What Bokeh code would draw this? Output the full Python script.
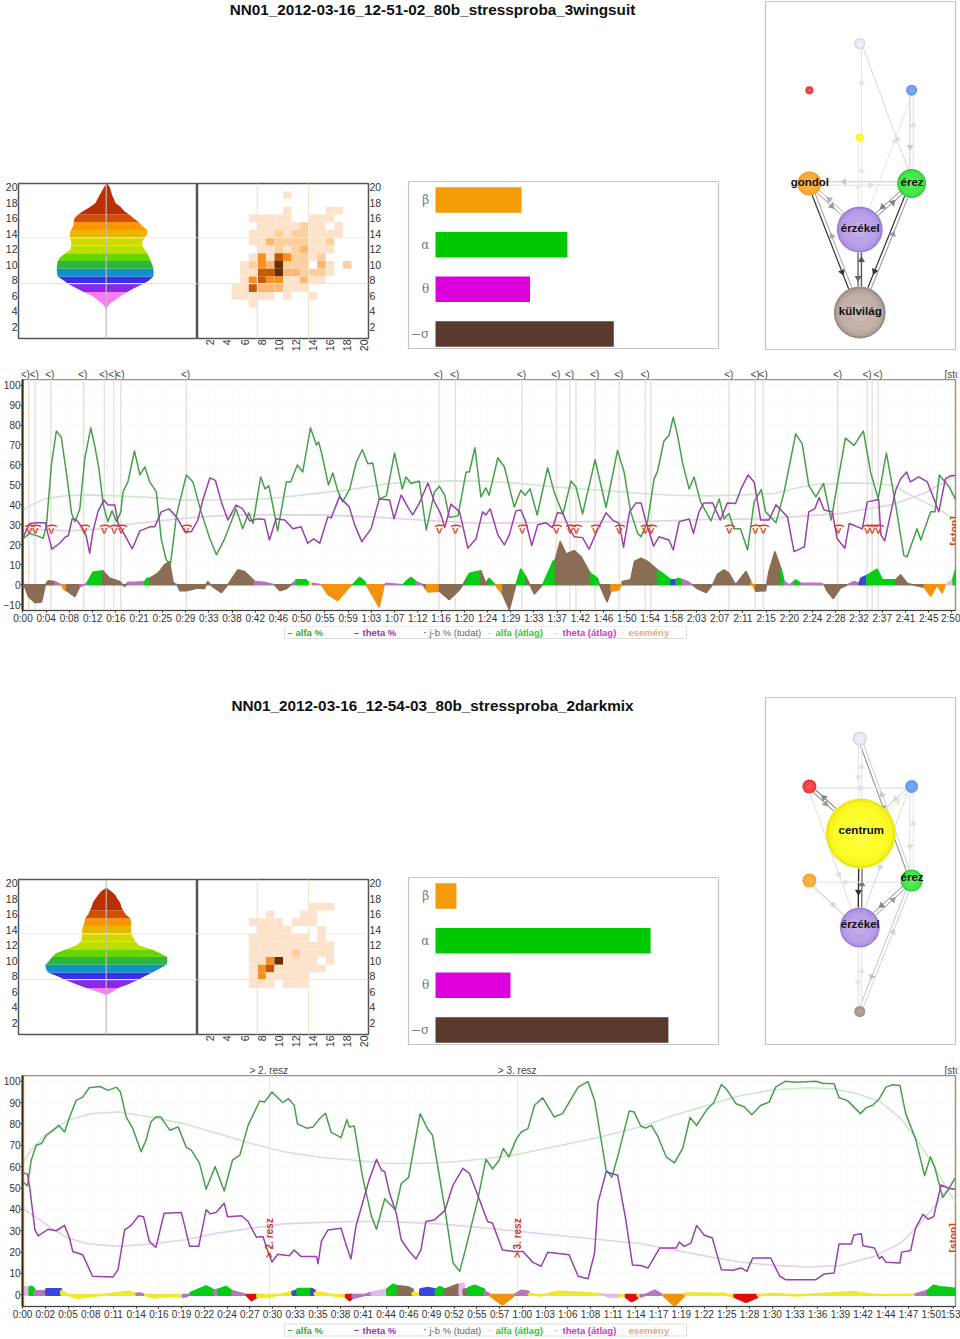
import math
import numpy as np
from bokeh.plotting import figure
from bokeh.layouts import column, row
from bokeh.embed import file_html
from bokeh.resources import INLINE
from bokeh.core.properties import value
from bokeh.models import (Range1d, FixedTicker, ColumnDataSource, Span)

SANS = "Liberation Sans"

title_1 = "NN01_2012-03-16_12-51-02_80b_stressproba_3wingsuit"
title_2 = "NN01_2012-03-16_12-54-03_80b_stressproba_2darkmix"

tick_labels_1 = ["0:00","0:04","0:08","0:12","0:16","0:21","0:25","0:29","0:33","0:38","0:42","0:46","0:50","0:55","0:59","1:03","1:07","1:12","1:16","1:20","1:24","1:29","1:33","1:37","1:42","1:46","1:50","1:54","1:58","2:03","2:07","2:11","2:15","2:20","2:24","2:28","2:32","2:37","2:41","2:45","2:50"]
tick_labels_2 = ["0:00","0:02","0:05","0:08","0:11","0:14","0:16","0:19","0:22","0:24","0:27","0:30","0:33","0:35","0:38","0:41","0:44","0:46","0:49","0:52","0:55","0:57","1:00","1:03","1:06","1:08","1:11","1:14","1:17","1:19","1:22","1:25","1:28","1:30","1:33","1:36","1:39","1:42","1:44","1:47","1:50","1:53"]
tick_step_1 = 4.25
tick_step_2 = 2.76

alfa1_t = [0,1.2,2.5,3.7,4.3,5.2,6.1,7,8,8.9,9.5,10.4,11.3,12.4,13.1,13.9,14.7,15.5,16.3,17.1,17.9,18.3,19.2,20.4,21.4,22.3,23.2,24.4,25.3,26.2,27,28.1,29.9,31.1,32.6,34.2,35.4,36.9,38.1,39,40.2,41.3,42.1,43.5,44.3,45,45.7,46.6,48.2,49,50.2,51.2,52.6,53.7,54.1,54.6,55.9,56.7,57.6,58.5,59.8,61,62.1,63.1,64,65.2,66.5,68,69.4,70.1,71,72.5,73.8,75.3,76.2,77.2,78,79.6,81.1,81.7,82.7,83.8,84.7,85.3,86.9,88.1,89.9,91.1,91.9,92.8,94.1,96,97.2,98.8,100.3,101.2,102.4,104.7,106.7,108.8,110,111.2,112.5,113.1,114.3,115.5,116.1,117.3,118.2,119,119.8,120.7,121.9,122.8,124,125.9,127.4,128.3,129.2,130.1,131.3,132.6,133.8,135.1,135.9,137.8,139.3,141.4,142.6,143.8,145.1,146.5,147.9,149.1,150.5,152.1,153.8,155.1,156.5,158,159.7,161.2,161.8,163.6,164.3,166.1,166.9,167.7,169.5,170.7]
alfa1_v = [23,25.7,24.6,23.3,30,60,77,74,55,35.7,31.6,38,63,78.6,70,58,40,31.6,37,31.6,36.5,46.5,51.5,67,55,59,51.5,46.5,23,12.5,10.5,35,55,51.5,36.5,23,15,23,31.6,38,28,36,30.7,54,48,49.5,40,27,51.5,51.5,60,56.5,78.6,70,71.5,66.5,50,56,47,41.5,48,61.5,67.6,60.6,61,43,44.5,66,48,54,50.7,52,27.4,46.5,49.3,44.8,33.7,34.5,56.5,56.5,68.6,44,48.5,44.8,63.6,59,39,47.3,44.8,48,34.9,58.6,46.5,35.4,52,49,35.4,62.6,38.7,67.3,56.5,36.5,25.7,24,31.6,53,56.5,72,74.7,83.9,74.7,61,48,54,41.5,32,43,33,35.7,28,28,17.4,41.5,47.7,36.5,31,46.5,75.6,70.6,49.8,44,50.7,32.4,51.5,73.4,69.8,77,56.5,43,66,40,14.6,14,28,22.4,36.5,36.5,55,49,42.4]

theta1_t = [0,1.2,2.5,4.1,4.6,5.3,6.7,7.8,8.3,9,9.8,11,11.6,12.2,12.8,13.7,14.8,15.6,16.8,17.4,18.6,20,21.4,23.2,24.1,25.3,26.7,28.1,29.6,30.8,32,32.9,34.2,35.2,36.3,37.5,39,40.2,41.5,43,44.2,45.1,46.3,47.9,49.4,50.9,52.1,53.2,54.3,55.8,56.4,57.9,59.7,60.7,62,63.7,65.2,67.1,67.9,69.2,70.4,71.3,72.5,74.1,75.3,76.4,77.2,78.3,79.9,81.4,82.9,84.1,84.7,85.5,86.9,88.1,89,90.2,91.1,92,93.1,94.2,95.7,96.9,97.8,98.8,100,100.9,102.4,103.6,105.2,106.7,107.9,109.1,109.9,111,112.2,113.1,114,115.4,116.4,118.2,119,120.1,121.9,122.7,123.7,124.6,126.2,127.6,128.9,130.4,131.4,132.7,133.8,135,136.5,137.8,139.9,141.1,143,143.8,144.9,145.7,146.6,148.1,149,150.4,151.2,153.6,154.5,156.6,157,157.7,159.7,160.6,161.7,162.4,163.9,165.5,166.7,167.6,168.8,169.7,170.7]
theta1_v = [23.6,30.7,31,31,25,17.8,20.8,24,24.5,33,32.4,28,24,15.8,26.6,36.5,42.4,40,40,30.7,25,18,27,29,29,36.5,38,34,26.6,26.6,32.4,42.4,53.5,52.3,41.5,32.4,39.9,38,32,33,32.7,22.4,33,32.4,28,29,20.8,23,20.8,34,33.5,44,39,30,21.6,28,43,42.4,33,45,39,35,40.7,51,41.5,35.7,28.6,40.4,36.5,18.3,23,36.5,35,38,25,20,25,37,37.4,31.6,19.6,30,31,28.6,36,35.7,28,24,23.6,17.8,28,36,32.4,30.7,18.8,36.5,41,41,31.6,19.4,24,22.4,17.4,31.6,33,25.7,36.5,41,41,32.4,41,40.7,48,55,51.5,32.4,32.4,40,34,16.6,19,36.5,38,43.7,37.4,36.5,23,18.3,30.7,28,41.5,42.7,25,22,47.3,53,56.5,51.5,54,51.5,43,36.5,53,54.5,54.8]

alfa1_avg_t = [0,1.6,4,7.6,12,17.4,23.5,29.6,38.7,44.8,54.6,60.7,66.8,72.8,79,85,91.1,97.2,103.3,109.4,113.1,119.2,125.3,131.4,137.4,140.5,144.8,150.9,155.7,159.4,161.8,164.9,167.9,170.7]
alfa1_avg_v = [37.4,40,43,44.5,45,44.5,43.7,42.4,42.7,43,46,48,50.7,51.5,52,51.8,50.7,49,47.8,46.5,45.7,44.8,44.5,45,45.7,47.8,50.2,51,50.7,49.8,45.7,41.5,37.4,32.4]
theta1_avg_t = [0,8.3,14.3,20.4,26.5,32.6,38.7,50.9,54.6,63.7,72.8,82,91.1,103.3,113.1,125.3,134.4,143.5,149.6,158.8,164.9,170.7]
theta1_avg_v = [28,27,28,30.7,32.4,34,35,35,35,34,32.4,31,31,31.6,31.6,32.7,33,34.5,35.7,40,45.7,54.8]

# j-b % band: (kind, times, values)
jb1_segments = [
 ("B",[0,0.3,1,2.2,3.4,4.1,4.6,5.8],[1.6,-1,-6,-9,-8.7,0,2,1.6]),
 ("P",[5.8,7],[1.6,0]),
 ("O",[7,7.5,8],[0,-2.5,-3]),
 ("B",[8,9.5,10.4],[-3,-6,-1]),
 ("P",[10.4,11.3,11.9],[-1,0,1.8]),
 ("G",[11.9,12.8,14.6],[1.8,6.3,7]),
 ("B",[14.6,15.9,17.7,18.6,19.2],[7,3.3,1.7,-1,1.3]),
 ("P",[19.2,20.4,22.3],[1.3,1.3,1.7]),
 ("G",[22.3,22.7,23.2],[1.7,3.3,3.3]),
 ("B",[23.2,24.7,25.9,26.8,27.5,28.2,28.7,29.9,32,33.2,33.8,34.7,36.3,37.5,39.3,40.5,42.4],[3.3,5.8,10,11.7,1,0,-3,-3,-1.7,-2,1.7,-1,-4,0,7.5,6.7,1.7]),
 ("P",[42.4,44.2,46],[1.7,1.3,0]),
 ("B",[46,47,48.2,49.4],[0,-3,-2,0.8]),
 ("P",[49.4,50],[0.8,2.5]),
 ("G",[50,51.8,52.4],[2.5,2.5,0.8]),
 ("Y",[52.4,53],[0.8,0.8]),
 ("P",[53,54.6],[0.8,0]),
 ("O",[54.6,55.8,57.6,59.7,60.3],[0,-5,-8,-1.3,0]),
 ("G",[60.3,61.6,62.5,62.8],[0,3.8,1.7,0]),
 ("O",[62.8,65.2,66.1],[0,-11.3,0]),
 ("P",[66.1,66.5,69.5],[0,0.8,0]),
 ("G",[69.5,70.1,71,71.9],[0,1.7,3.8,1.7]),
 ("P",[71.9,73.2],[1.7,0]),
 ("B",[73.2,73.8],[0,-2.5]),
 ("O",[73.8,74.1,76.2],[-2.5,-3.7,-3.3]),
 ("B",[76.2,78,79.9,80.5,81.2],[-3.3,-7.5,-2.5,0,3.5]),
 ("G",[81.2,81.7,83.8],[3.5,5.8,7]),
 ("B",[83.8,84.7,85.3],[7,0.8,3.3]),
 ("G",[85.3,86.4],[3.3,0]),
 ("O",[86.4,87.8],[0,-5]),
 ("B",[87.8,89,90.2],[-5,-12.5,0]),
 ("G",[90.2,91.1,92],[0,8,4.2]),
 ("B",[92,93.6,95.1],[4.2,-4.7,0]),
 ("G",[95.1,97,97.4],[0,11.7,12.5]),
 ("B",[97.4,98.3,99.4,100.9,102.1,103.8],[12.5,21.7,15.5,17.2,14.2,5.8]),
 ("G",[103.8,105.1,105.5],[5.8,3.3,0]),
 ("B",[105.5,106.9,107.6],[0,-8.7,-3.3]),
 ("O",[107.6,109.1,109.7],[-3.3,-2.5,1.7]),
 ("B",[109.7,111.2,111.9,113.1,114.3,116.1],[1.7,2.5,11.7,13.3,11.7,7.5]),
 ("G",[116.1,116.4,118.2,118.6],[7.5,7,3.3,2.5]),
 ("L",[118.6,119.5],[2.5,2.5]),
 ("G",[119.5,119.8,120.7],[2.5,3.3,2.5]),
 ("P",[120.7,121.6,122.5],[2.5,1.7,0]),
 ("B",[122.5,123.4,125,126.2,127.1,128.3,129.2,130.4,132.3,133.2],[0,-2,-4,0,5.3,7.5,5.8,0,6.7,1.7]),
 ("O",[133.2,133.5,134.1],[1.7,0,-3.3]),
 ("B",[134.1,135.9,136.5,137.6,138.7],[-3.3,-3,6.7,16.7,8.3]),
 ("G",[138.7,139.3],[8.3,1.7]),
 ("P",[139.3,140.2,141.1],[1.7,0,1.7]),
 ("G",[141.1,141.4,142.3],[1.7,2.5,0.8]),
 ("P",[142.3,146,146.6],[0.8,0.8,0]),
 ("B",[146.6,147.2,148.3,149.6,150.9],[0,-3.3,-7,-1.7,0]),
 ("P",[150.9,152.1,153],[0,1.7,0.8]),
 ("L",[153,153.3,154.4],[0.8,3.3,4.7]),
 ("G",[154.4,156.3,157.3,159.7],[4.7,7.8,2.5,2.5]),
 ("B",[159.7,160.6,161.8,162.7,164.9],[2.5,5,0.8,0,-1.3]),
 ("O",[164.9,166.1,167.3,168.2,168.8],[-1.3,-5.8,-0.3,-4.2,0]),
 ("V",[168.8,169.7,170.2],[0,1.7,3.3]),
 ("G",[170.2,170.7],[3.3,8]),
]

events1_t = [1.06,2.23,5.08,11.1,14.9,16.6,17.9,29.9,76.1,79.1,91.3,97.6,100.1,101.2,104.7,109.1,113.9,114.9,129.2,134,135.5,149.1,154.5,155.4,156.5]
labeled1_t = [0.6,2.23,5.08,11.1,14.9,16.6,17.9,29.9,76.1,79.1,91.3,97.6,100.1,104.7,109.1,113.9,129.2,134,135.5,149.1,154.5,156.5]
event1_text = "<)"

alfa2_t = [0,.6,1.05,1.66,2.3,2.9,3.7,4.4,5.1,5.7,6.5,7.3,8.1,9.4,10.4,11.4,11.9,12.6,13.4,14.4,15,15.6,16.2,16.8,17.9,18.9,19.9,20.5,21.5,22.3,23.4,24.5,25.5,26.4,27.4,28.8,29.4,30.3,31.6,32.3,33,33.4,34.5,35.3,36.1,36.8,37.5,38.7,39.4,39.7,40.3,41.3,42.4,43,44,45.3,46,46.9,48.3,49.2,49.8,51.3,52.3,53.1,53.7,55.3,56.3,57.1,57.9,58.4,59.1,60,60.6,61.4,62.2,63.2,64.6,65.6,67.5,68.7,69.5,70.9,71.6,72.3,73.7,74.3,75.1,75.7,76.4,77.2,78.2,79.2,80.2,81.1,81.9,83.2,84,84.9,85.5,86.7,87.7,88.6,89.7,90.7,91.5,92.7,93.8,96.4,97.2,98.6,99.2,100.2,101.8,102.5,103.3,104.1,104.9,105.7,106.6,107.3,108.5,109.6,110.3,110.8,111.8,112.6,113.4]
alfa2_v = [53,51,63,70,70.8,74.7,77,79.3,76.2,83,91,92.5,96.9,97.5,95.7,97.2,94.9,83.2,77.8,67,72.4,81,83.2,83.2,77,78.6,69,67.7,61.5,49.4,60,48.6,63,65.4,79.3,90.7,90.2,94.9,90,91.8,88.7,80,78,78.6,82.5,85,76,73.6,82,78.6,79,55.3,36.6,30.7,45,39.8,52,55,84.8,77.8,74.7,40.5,15,11,19.6,44.4,63.5,58.9,63,68.5,64.6,73,76.2,77.8,88.7,92.2,83.2,84.8,97.2,99.8,91,58.4,55,64.6,86,85.6,79,78,79.3,74,64.6,61.8,68.5,83,79.3,87,90,98.4,96.4,89.4,87.9,84.3,88.7,90.2,97.2,100,99.5,100,99,98.8,92.2,91,84.8,87.6,88.7,91.8,97.2,98.3,98,84.8,73,55.7,64.6,60,45.7,49.8,55.3]

theta2_t = [0,.6,.85,1.5,1.9,3.1,4.1,5.1,5.7,6.1,7.3,8.5,11,11.6,12.4,13.2,14.1,14.7,15.4,16.2,17.2,19.3,20.3,21.4,22.3,22.8,23.5,24.5,24.9,26.6,27.4,28.4,29.2,29.8,30.3,31,32.4,33,33.8,35.7,35.9,36.3,37.1,38.7,39.3,39.9,40.5,41.3,42.1,43,43.6,44,44.6,45.4,46,47,47.8,48.4,49,50,51.3,52.3,53.5,54.3,55.3,56.5,57.1,58.3,59.8,60.8,62,63,63.8,66.4,67.5,68.7,69.5,69.9,70.9,72.3,73.3,74.1,75.1,76,77.4,79.4,79.8,80.4,81.2,81.9,82.8,83.8,84.9,86.3,87.3,88,88.7,90.9,92,92.7,96.4,97.4,98.6,99.2,100.7,101,101.9,102.1,103.5,104.1,104.4,104.9,106.6,106.8,107.9,108.5,109.4,110,110.7,111.6,112.6,113.4]
theta2_v = [57.3,56.5,50.6,30.4,27.6,30.7,30,32.5,26.6,20.3,18.8,8.7,8.4,11.8,30.4,32.5,37,36.6,25,22.2,38.2,38.5,22.7,22.7,39.8,37.9,38.5,42.9,36.6,37,34.3,27,27.3,20.3,15.4,19,18.3,21,18,18,14.6,25,30.4,31.2,23.4,16.8,32,42.9,53.7,63.4,58.4,57.6,47.5,38.2,25.8,20.3,16.8,21,34.3,35,39.4,51.4,59.2,56.8,46.7,34.3,33.5,21,20.3,20.3,15.2,13.4,19.9,18.8,8.7,7.5,19.6,42.9,57.6,56,35,14,13.7,12.6,21.9,21.9,24.7,22.7,24.2,32.5,28,26.6,11.8,11.5,12.6,11,17.2,17.2,8.7,7.1,7.1,9.8,10.2,23.8,23.8,28,28.6,23,21.9,16.9,18,15.2,14.9,20,20.8,31.2,37.7,35.4,36.6,51.4,49.8,49.4]

alfa2_avg_t = [0,1,2.7,5.5,8.3,11.6,15.6,19.7,23.7,27.8,31.8,36.3,40.3,44.4,48.4,52.5,56.5,60.2,64.6,69.9,75.1,79.2,83.2,87.3,91.3,95.4,98.6,101.5,104.3,106.7,108.7,110.8,112.4,113.4]
alfa2_avg_v = [61.5,67.7,74.7,81.7,84.8,85.6,83.2,80,75.5,70.8,67,64.3,63,61.5,61.5,62.3,63.8,65.8,69.3,73.6,78.6,84,88.7,93.3,96,96.9,96.4,94,90.2,82.5,72.4,60,49,43.6]
theta2_avg_t = [0,1.5,3.5,5.5,7.9,11.6,15.6,19.7,23.7,27.8,31.8,36.3,40.3,44.4,50.5,56.5,64.6,75.1,79.2,83.2,87.3,91.3,95.4,99.4,103.5,106.7,108.7,110.8,113.4]
theta2_avg_v = [40.5,36.6,31.2,26.6,23.9,22.7,23.8,25.8,28.9,31.2,33.2,33.9,34.3,34.3,33.2,31.2,28,23.9,21,18,15.4,13.8,13,13.7,18,24.2,32,41.3,55.3]

jb2_segments = [
 ("V",[0,.85],[3.5,3.5]),
 ("G",[.85,1.1,1.45],[3.5,3.8,2.5]),
 ("P",[1.45,2.87],[1.7,1.7]),
 ("L",[2.87,4.7],[2.7,2.7]),
 ("Y",[4.7,5.5,6.7,9.55,12.8,13.8],[2,0,-1.5,0,1.5,.5]),
 ("P",[13.8,14.3,14.8],[.5,.7,0]),
 ("Y",[14.8,16,18.5,19.5],[0,-1.3,-.3,-1]),
 ("P",[19.5,20,20.5],[-1,-.5,1]),
 ("G",[20.5,22.3,23.3],[1,4,2]),
 ("P",[23.3,23.8],[2,2.5]),
 ("G",[23.8,24.7,25.5],[2.5,3.7,1.7]),
 ("P",[25.5,27.2],[1.7,0]),
 ("R",[27.2,27.8,28.5],[0,-2.5,-1]),
 ("Y",[28.5,29.8,31,32.8],[-1,-1,0,1.4]),
 ("L",[32.8,33.4],[1.4,2.2]),
 ("G",[33.4,35.1],[2.8,2.8]),
 ("L",[35.1,35.5],[2.8,2]),
 ("Y",[35.5,36.3,37.9,39.3],[1,1,-.3,-1]),
 ("R",[39.3,39.7,40.1],[-1,-2.5,-1.5]),
 ("P",[40.1,41.2,42.4],[-1.5,-.5,1]),
 ("V",[42.4,44.3],[1,2.5]),
 ("G",[44.3,45,45.6],[2.5,4.8,4]),
 ("B",[45.6,46.8,47.4],[4,3.6,2.5]),
 ("Y",[47.4,48.3],[1,.5]),
 ("L",[48.3,49.2,50.2],[2.5,3.3,2.5]),
 ("G",[50.2,50.7,51.3],[2.5,3.6,2.5]),
 ("B",[51.3,52.9,53.1],[2.5,4.8,4.8]),
 ("V",[53.1,53.6],[4.8,5.3]),
 ("B",[53.6,54.1],[2.5,2.5]),
 ("G",[54.1,54.9,56.1],[3,4.3,2.5]),
 ("P",[56.1,56.7],[1.5,.5]),
 ("O",[56.7,58.3,59.8],[0,-4.5,0]),
 ("P",[59.8,60.6,61.5],[0,2,1.5]),
 ("Y",[61.5,63,65,67.9,70.5],[0.5,-.3,1.5,1,.2]),
 ("V",[70.5,71.5,72.5],[.2,-1,-.8]),
 ("Y",[72.5,73.3],[-.8,-.5]),
 ("R",[73.3,74,74.7],[-1,-3,-1.5]),
 ("Y",[74.7,75.1],[-.5,-.5]),
 ("P",[75.1,76.8,77.6],[-1,2,.3]),
 ("O",[77.8,79.2,80.5],[0,-5,0]),
 ("Y",[80.5,82,85.3,86.5],[.6,.6,.5,-1]),
 ("R",[86.5,87.9,89.3],[-1,-3.3,-1]),
 ("Y",[89.3,91.3,93.8,97.4,101,103.5,107.5,108.5],[-.3,.6,-.3,.5,1.4,0,0,.3]),
 ("P",[108.5,110],[.3,2]),
 ("G",[110,110.7,111.4,112.2,113.4],[2,4.3,3.6,3.3,2.8]),
]
events2_t = [30.0,60.15]
events2_text = ["> 2. resz","> 3. resz"]

legend_items = ["alfa %","theta %","j-b % (tudat)","alfa (átlag)","theta (átlag)","esemény"]

ticks_20 = [2,4,6,8,10,12,14,16,18,20]

violin_levels_1 = [20.5,20,19,18,17.5,17,16.5,16,15.5,15,14.5,14,13.5,13,12.5,12,11.5,11,10.5,10,9.5,9,8.5,8,7.5,7,6.5,6,5.5,5,4.5,4.2]
violin_left_1 = [0,2.3,6.7,10.7,15.7,22.3,28,31.7,32.3,33,35,36.3,36.3,35,34.7,35.7,40.7,45.7,48.3,49,49.3,49,48.3,42.3,37.3,29.7,22.3,14,9,4,.7,0]
violin_right_1 = [1,3.7,6,9.3,14.3,17.7,22.7,27.7,32.7,36,41,41,38.3,36,36,38.3,41,42.7,44.3,46,47,47.3,47,42.7,36,27.7,21,14.3,9.3,3.7,1,.3]
violin_levels_2 = [19.4,19,18.5,18,17.5,17,16.5,16,15.5,15,14.5,14,13.5,13,12.5,12,11.5,11,10.5,10,9.5,9,8.5,8,7.5,7,6.5,6,5.6]
violin_left_2 = [.3,5,8,11,13.3,14.5,16.3,18,21,21.7,23,24,24,24.3,25,30,40,50,54,57,60.7,60,58,48,40,30,20,8,0]
violin_right_2 = [.5,5,9,11.3,14,15,17,19.5,24,25,24.7,24.7,25,27,29,33,45,54,60.7,61,60,53,46,38,31,22,12,6,0]

# heat map rows, row 20 first; a digit is the shade of a cell of columns 1..20
heat_1 = ["00000000000000000000","00000000001000000000","00000000000000000000","00000000001000011000","00000011111001110000",
"00000001111121101000","00000011121221111000","00000011322221120000","00000001121231110000","00000014154221200000",
"00000124362220310200","00000115563322210000","00000145441131100000","00001153331110000000","00001111101001000000",
"00000010000000000000","00000000000000000000","00000000000000000000","00000000000000000000","00000000000000000000"]
heat_2 = ["00000000000000000000","00000000000000000000","00000000000000000000","00000000000001110000","00000000100011000000",
"00000011110111000000","00000001111000100000","00000011111110100000","00000011111111110000","00000011111211110000",
"00000011461111010000","00000014511111100000","00000014111110000000","00000011101110000000","00000000000000000000",
"00000000000000000000","00000000000000000000","00000000000000000000","00000000000000000000","00000000000000000000"]

bar_names = ["β","α","θ","−σ"]
bars_1 = [30.4,46.6,33.4,63]
bars_2 = [7.4,76,26.5,82.3]

net1_names = {"gondol":"gondol","erez":"érez","erzekel":"érzékel","kulvilag":"külvilág"}
net2_names = {"centrum":"centrum","erez":"érez","erzekel":"érzékel"}

JB = {"B":"#8a6d55","G":"#05cc14","P":"#b477bb","O":"#f2920e","L":"#3a46dc","Y":"#efe92c","R":"#e20c0c","V":"#e4b8ea"}
BAND = ["#fb7cf5","#8a28e8","#3a30e8","#1090cc","#2ab640","#66d600","#bede00","#d2d800","#e9b500","#fc9500","#d05000","#bb2f00"]
HEAT = ["#ffffff","#fde3cb","#fccf9f","#fab877","#f88f1f","#c45a05","#6b2e02"]


def chart(w_t, labels, step, xr, yr, h_frame, left, bottom, band_w,
          alfa, theta, alfa_avg, theta_avg, segs, y_ticks):
    p = figure(width=960, height=h_frame+bottom, x_range=Range1d(*xr), y_range=Range1d(*yr), output_backend="svg",
               toolbar_location=None, min_border_left=left, min_border_right=960-left-w_t,
               min_border_top=0, min_border_bottom=bottom)
    p.frame_align = False
    p.outline_line_color = "#a58f75"
    p.outline_line_width = 1.5
    ticks = [i*step for i in range(len(labels))]
    p.xaxis.ticker = FixedTicker(ticks=ticks)
    p.xaxis.major_label_overrides = {t: l for t, l in zip(ticks, labels)}
    p.yaxis.ticker = FixedTicker(ticks=y_ticks)
    for ax in [p.xaxis[0], p.yaxis[0]]:
        ax.major_label_text_font = SANS
        ax.major_label_text_font_size = "10px"
        ax.major_label_text_color = "#333333"
        ax.major_label_standoff = 0
        ax.major_tick_out = 2
        ax.major_tick_in = 0
        ax.minor_tick_line_color = None
        ax.major_tick_line_color = "#333333"
    p.xaxis.axis_line_color = "#444444"
    p.yaxis.axis_line_color = "#3d2b1a"
    p.yaxis.axis_line_width = 2
    p.xgrid.grid_line_color = "#efefef"
    p.ygrid.grid_line_color = "#efefef"
    p.xgrid.grid_line_dash = "1 3"
    p.ygrid.grid_line_dash = "1 3"
    src = dict(xs=[], ys=[], c=[])
    for kind, ts, vs in segs:
        src["xs"].append(list(ts) + [ts[-1], ts[0]])
        src["ys"].append(list(vs) + [0, 0])
        src["c"].append(JB[kind])
    p.patches("xs", "ys", fill_color="c", line_color="c", line_width=band_w, source=ColumnDataSource(src))
    p.line(alfa_avg[0], alfa_avg[1], line_color="#cfe6cf", line_width=1.6)
    p.line(theta_avg[0], theta_avg[1], line_color="#e4d0e8", line_width=1.6)
    p.line(alfa[0], alfa[1], line_color="#46a04a", line_width=1.5, line_join="round")
    p.line(theta[0], theta[1], line_color="#9b3fae", line_width=1.5, line_join="round")
    p.segment(x0=[xr[0]+0.1], x1=[xr[0]+0.1], y0=[yr[0]], y1=[yr[1]], line_color="#f0a040", line_width=2, line_alpha=.7)
    return p


def plain(width, height, xr, yr, left=0, right=0):
    p = figure(width=width, height=height, x_range=Range1d(*xr), y_range=Range1d(*yr),
               x_axis_location=None, y_axis_location=None, output_backend="svg", toolbar_location=None,
               min_border_left=left, min_border_right=right, min_border_top=0, min_border_bottom=0, outline_line_color=None)
    p.grid.visible = False
    p.frame_align = False
    return p


def top_strip(h, cy, xr, scale, ts, texts):
    p = plain(960, h, xr, (h, 0), left=21, right=3)
    p.text(x=ts, y=[cy]*len(ts), text=texts, text_font=value(SANS), text_font_size="10px", text_color="#444444",
           text_align="center", text_baseline="middle")
    p.text(x=[xr[1]-13/scale], y=[cy], text=["[stop]"], text_font=value(SANS), text_font_size="10px",
           text_color="#444444", text_baseline="middle")
    return p


def legend_strip(h, cy):
    p = plain(960, h, (0,960), (h,0))
    p.quad(left=[284], right=[686], top=[cy-6], bottom=[cy+6], fill_color="white", line_color="#dddddd", line_width=1)
    items = [(295,"#3aa63a","bold"),(362,"#9b33ad","bold"),(429,"#666666","normal"),(495,"#39c439","bold"),(562,"#c93acb","bold"),(628,"#f2a67a","bold")]
    dash = [(287,"#3aa63a","–"),(353.5,"#9b33ad","–"),(423,"#555555","·"),(487,"#cfe6cf","–"),(553,"#e4d0e8","–"),(621,"#f5d0b8","·")]
    for (x, col, st), t in zip(items, legend_items):
        p.text([x],[cy],text=[t],text_font=value(SANS),text_font_size="9.5px",text_color=col,text_font_style=st,text_baseline="middle")
    for x, col, t in dash:
        p.text([x],[cy],text=[t],text_font=value(SANS),text_font_size="9px",text_color=col,text_font_style="bold",text_baseline="middle")
    return p


xr1 = (-0.09,170.65)
xr2 = (-0.01,113.35)
yr1 = (-12.9,102.8)
yr2 = (-5.45,102.65)
strip_xr1 = (-0.09, (957-21.5)/5.47)
strip_xr2 = (-0.01, (957-21)/8.24)

c1 = chart(934, tick_labels_1, tick_step_1, xr1, yr1, 232, 21, 15, 1.4,
           (alfa1_t,alfa1_v),(theta1_t,theta1_v),(alfa1_avg_t,alfa1_avg_v),(theta1_avg_t,theta1_avg_v),jb1_segments,
           [-10,0,10,20,30,40,50,60,70,80,90,100])
c1.segment(x0=events1_t, x1=events1_t, y0=[yr1[0]]*len(events1_t), y1=[yr1[1]]*len(events1_t), line_color="#e8e2dc", line_width=1.5)
c1.renderers.insert(0, c1.renderers.pop())
c1.text(x=events1_t, y=[28]*len(events1_t), text=[event1_text]*len(events1_t), angle=math.pi/2, angle_units="rad",
        text_color="#d8401a", text_font=value(SANS), text_font_style="bold", text_font_size="11px",
        text_align="center", text_baseline="middle")
c1.text(x=[170.3], y=[27], text=["[stop]"], angle=math.pi/2, text_color="#d04a10", text_font=value(SANS),
        text_font_style="bold", text_font_size="10.5px", text_align="center", text_baseline="middle")
s1 = top_strip(14, 9, strip_xr1, 5.47, labeled1_t, [event1_text]*len(labeled1_t))

c2 = chart(934, tick_labels_2, tick_step_2, xr2, yr2, 232, 21, 15, 2.4,
           (alfa2_t,alfa2_v),(theta2_t,theta2_v),(alfa2_avg_t,alfa2_avg_v),(theta2_avg_t,theta2_avg_v),jb2_segments,
           [0,10,20,30,40,50,60,70,80,90,100])
c2.segment(x0=events2_t, x1=events2_t, y0=[yr2[0]]*2, y1=[yr2[1]]*2, line_color="#ebe6e0", line_width=1)
c2.renderers.insert(0, c2.renderers.pop())
c2.text(x=events2_t, y=[26.5]*2, text=events2_text, angle=math.pi/2, text_color="#c8381a", text_font=value(SANS),
        text_font_style="bold", text_font_size="10px", text_align="center", text_baseline="middle")
c2.text(x=[113.1], y=[26.7], text=["[stop]"], angle=math.pi/2, text_color="#d04a10", text_font=value(SANS),
        text_font_style="bold", text_font_size="10.5px", text_align="center", text_baseline="middle")
s2 = top_strip(15, 10, strip_xr2, 8.24, events2_t, events2_text)


def axis_style(ax):
    ax.major_label_text_font = SANS
    ax.major_label_text_font_size = "10.5px"
    ax.major_label_text_color = "#333333"
    ax.major_label_standoff = 1
    ax.major_tick_out = 0
    ax.major_tick_in = 0
    ax.minor_tick_line_color = None
    ax.axis_line_color = None


def violin_panel(levels, left, right, top, bottom):
    p = figure(width=197, height=top+bottom+155, x_range=Range1d(-87.4,91), y_range=Range1d(.5,20.5),
               x_axis_location=None, output_backend="svg", toolbar_location=None,
               min_border_left=18, min_border_right=0, min_border_top=top, min_border_bottom=bottom)
    p.frame_align = False
    p.grid.visible = False
    p.outline_line_color = "#555555"
    p.outline_line_width = 1.5
    p.yaxis.ticker = FixedTicker(ticks=ticks_20)
    axis_style(p.yaxis[0])
    lv = np.array(levels)
    lo = np.array(left)
    hi = np.array(right)
    edges = [0,6.5,7.5,8.5,9.5,10.5,11.5,12.5,13.5,14.5,15.5,16.5,21]
    for i, col in enumerate(BAND):
        m = (lv >= edges[i]) & (lv <= edges[i+1])
        p.harea(x1=-lo[m], x2=hi[m], y=lv[m], fill_color=col)
    p.add_layout(Span(location=0, dimension="height", line_color="#bbbbbb", line_width=1.2))
    p.add_layout(Span(location=7.6, dimension="width", line_color="#e3e3e3", line_width=1.2))
    p.add_layout(Span(location=13.5, dimension="width", line_color="#eef0cc", line_width=1.2))
    return p


def heat_panel(rows, top, bottom):
    p = figure(width=208, height=top+bottom+155, x_range=Range1d(.5,20.5), y_range=Range1d(.5,20.5),
               y_axis_location="right", output_backend="svg", toolbar_location=None,
               min_border_left=0, min_border_right=37, min_border_top=top, min_border_bottom=bottom)
    p.frame_align = False
    p.grid.visible = False
    p.outline_line_color = "#555555"
    p.outline_line_width = 1.5
    for ax in (p.xaxis[0], p.yaxis[0]):
        ax.ticker = FixedTicker(ticks=ticks_20)
        axis_style(ax)
    p.xaxis.major_label_orientation = math.pi/2
    xs, ys, cs = [], [], []
    for i, r in enumerate(rows):
        for j, ch in enumerate(r):
            if ch != "0":
                xs.append(j+1)
                ys.append(20-i)
                cs.append(HEAT[int(ch)])
    p.rect(xs, ys, width=1, height=1, fill_color=cs, line_color=None)
    p.add_layout(Span(location=7.6, dimension="width", line_color="#e3e3e3", line_width=1.2))
    p.add_layout(Span(location=13.5, dimension="width", line_color="#eef0cc", line_width=1.2))
    p.add_layout(Span(location=7.5, dimension="height", line_color="#e3e3e3", line_width=1.2))
    p.add_layout(Span(location=13.5, dimension="height", line_color="#f3e8cc", line_width=1.2))
    return p


def bars_panel(vals, top, bottom):
    p = figure(width=357, height=top+bottom+167, x_range=Range1d(-9.54,100), y_range=Range1d(.675,4.414),
               x_axis_location=None, y_axis_location=None, output_backend="svg", toolbar_location=None,
               min_border_left=3, min_border_right=44, min_border_top=top, min_border_bottom=bottom)
    p.frame_align = False
    p.grid.visible = False
    p.outline_line_color = "#c4c4c4"
    p.outline_line_width = 1.2
    pos = [4,3,2,1]
    p.hbar(y=pos, left=0, right=vals, height=.57, fill_color=["#f39c08","#00c800","#dd00dd","#5a3a2e"], line_color=None)
    p.text(x=[-2.2]*4, y=pos, text=bar_names, text_font=value("DejaVu Serif"), text_font_size="12px", text_color="#777777",
           text_align="right", text_baseline="middle")
    return p


def net_panel(nodes, edges, names, yr, top, bottom, label_dy):
    p = figure(width=198, height=top+bottom+int(yr[0]-yr[1]), x_range=Range1d(765.5,956), y_range=Range1d(*yr),
               x_axis_location=None, y_axis_location=None, output_backend="svg", toolbar_location=None,
               min_border_left=3, min_border_right=5, min_border_top=top, min_border_bottom=bottom)
    p.frame_align = False
    p.grid.visible = False
    p.outline_line_color = "#c4c4c4"
    p.outline_line_width = 1.2
    for a, b, col, w, fr in edges:
        ax, ay, ar = nodes[a][:3]
        bx, by, br = nodes[b][:3]
        d = math.hypot(bx-ax, by-ay)
        ux, uy = (bx-ax)/d, (by-ay)/d
        nx, ny = -uy*1.7, ux*1.7
        sx, sy = ax+ux*ar+nx, ay+uy*ar+ny
        ex, ey = bx-ux*br+nx, by-uy*br+ny
        p.line([sx, ex], [sy, ey], line_color=col, line_width=w)
        mx, my = sx+(ex-sx)*fr, sy+(ey-sy)*fr
        p.scatter([mx], [my], marker="triangle", size=7, angle=math.atan2(-uy, ux)-math.pi/2,
                  fill_color=col, line_color=None)
    for k, (x, y, r, col, rim) in nodes.items():
        p.circle([x], [y], radius=r, fill_color=rim, line_color=None)
        for f, a in ((.92,.55),(.8,.5),(.65,.45)):
            p.circle([x], [y+r*(1-f)*.1], radius=r*f, fill_color=col, fill_alpha=a, line_color=None)
        p.circle([x], [y], radius=r*.35, fill_color="white", fill_alpha=.12, line_color=None)
    for k, s in names.items():
        x, y = nodes[k][:2]
        p.text([x+.5], [y+label_dy], text=[s], text_font=value(SANS), text_font_style="bold", text_font_size="11.5px",
               text_color="#111111", text_align="center", text_baseline="middle")
    return p


net1_nodes = {
 "top":(860,43,5.5,"#f6f0f8","#cfc6d4"),
 "red":(809.5,89.7,4,"#f04848","#e03030"),
 "blue":(912,89.7,5.5,"#70a4f4","#5c8fe8"),
 "yellow":(860,137,4,"#ffff30","#f0e800"),
 "gondol":(809.5,183,12,"#ffb040","#f09a28"),
 "erez":(912,183,14.5,"#50ec50","#28cc38"),
 "erzekel":(860,229,23,"#c0a8ec","#9a80d4"),
 "kulvilag":(860,312,26,"#c8b8b0","#9c8c84"),
}
net1_edges = [
 ("gondol","kulvilag","#333333",1.2,.82),("kulvilag","gondol","#a8a8b0",1.1,.55),
 ("erzekel","kulvilag","#666666",1.4,.75),("kulvilag","erzekel","#555555",1.4,.78),
 ("erez","kulvilag","#333333",1.2,.82),("kulvilag","erez","#9a9aa8",1.1,.6),
 ("gondol","erzekel","#a89888",1,.6),("erzekel","gondol","#aab0c0",1,.6),
 ("erez","erzekel","#888078",1,.72),("erzekel","erez","#808088",1,.62),
 ("gondol","erez","#dddddd",1,.65),("erez","gondol","#c8c8c8",1,.7),
 ("erzekel","yellow","#ece6ec",1,.55),("yellow","erzekel","#eee4ec",1,.7),
 ("yellow","top","#e6e4ea",1,.6),("erez","top","#ddd4dc",1,.25),
 ("erez","blue","#e2dee8",1,.6),("blue","erez","#cccccc",1,.7),("erzekel","blue","#e8e0ea",1,.6),
]
net2_nodes = {
 "top":(860,738,7,"#f4eef8","#cfc6d4"),
 "red":(809.5,786,7,"#f84848","#e02c2c"),
 "blue":(912,786,6.5,"#70a4f4","#5c8fe8"),
 "centrum":(861,833,35,"#ffff30","#eeea10"),
 "orange":(809.5,880,7,"#ffb040","#f09a28"),
 "erez":(912,880,11,"#50ec50","#28cc38"),
 "erzekel":(860,927,20,"#c0a8ec","#9a80d4"),
 "brown":(860,1011,5.5,"#b0a098","#988880"),
}
net2_edges = [
 ("centrum","red","#888890",1.2,.6),("red","centrum","#a09a90",1.2,.6),
 ("centrum","erzekel","#333333",1.4,.6),("erzekel","centrum","#777777",1.4,.6),
 ("top","erez","#9a9490",1.1,.5),("erez","top","#ccc8d0",1,.6),
 ("top","centrum","#e6e2ea",1,.6),("centrum","top","#e6e2ea",1,.6),
 ("red","blue","#e2e0e6",1.2,.5),("blue","centrum","#d0d8e8",1.2,.5),("centrum","blue","#eee8cc",1,.5),
 ("red","erzekel","#e4dcdc",1,.7),("blue","erzekel","#dcd8d8",1,.65),
 ("orange","erzekel","#d8d2d2",1.2,.65),("orange","erez","#eadede",1,.35),
 ("erez","erzekel","#888888",1,.72),("erzekel","erez","#999999",1,.6),
 ("erez","blue","#e0e0ea",1,.6),("blue","erez","#e4dcdc",1,.7),
 ("erez","brown","#c8c0c0",1,.75),("brown","erez","#c8d0dc",1,.65),
 ("erzekel","brown","#e8e4e8",1.2,.6),("brown","erzekel","#e8e4e8",1.2,.6),
]


def title_fig(text, h, y):
    p = plain(762, h, (0,762), (h,0))
    p.text([432], [y], text=[text], text_font=value(SANS), text_font_style="bold", text_font_size="15.3px",
           text_color="#111111", text_align="center", text_baseline="middle")
    return p


sep = plain(960, 4, (0,960), (4,0))
sep.line([3,957],[0.5,0.5], line_color="#cccccc", line_width=1)

sec1 = row(
    column(title_fig(title_1, 172, 9),
           row(violin_panel(violin_levels_1, violin_left_1, violin_right_1, 11, 27),
               heat_panel(heat_1, 11, 27), bars_panel(bars_1, 9, 17), spacing=0), spacing=0),
    net_panel(net1_nodes, net1_edges, net1_names, (349,1), 1, 16, -1.5), spacing=0)
sec2 = row(
    column(title_fig(title_2, 196, 33),
           row(violin_panel(violin_levels_2, violin_left_2, violin_right_2, 11, 26),
               heat_panel(heat_2, 11, 26), bars_panel(bars_2, 9, 16), spacing=0), spacing=0),
    net_panel(net2_nodes, net2_edges, net2_names, (1044,697), 25, 16, -3.5), spacing=0)
page = column(sec1, s1, c1, legend_strip(42, 6), sep, sec2, s2, c2, legend_strip(17, 7.5), spacing=0)
open("out.html", "w").write(file_html(page, INLINE))
